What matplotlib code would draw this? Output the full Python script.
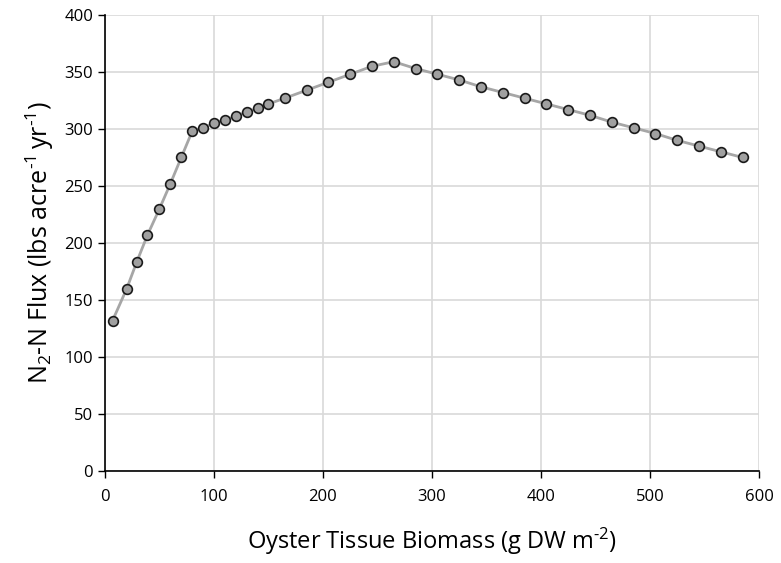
import matplotlib
matplotlib.use("Agg")
import matplotlib.pyplot as plt

biomass = [7, 20, 29, 39, 50, 60, 70, 80, 90, 100, 110, 120, 130, 140, 150,
           165, 185, 205, 225, 245, 265, 285, 305, 325, 345, 365, 385, 405,
           425, 445, 465, 485, 505, 525, 545, 565, 585]
flux = [132, 160, 183, 207, 230, 252, 275, 298, 301, 305, 308, 311, 315, 318, 322,
        327, 334, 341, 348, 355, 359, 353, 348, 343, 337, 332, 327, 322,
        317, 312, 306, 301, 296, 290, 285, 280, 275]
xticks = [0, 100, 200, 300, 400, 500, 600]
yticks = [0, 50, 100, 150, 200, 250, 300, 350, 400]

plt.rcParams['font.family'] = ['Open Sans', 'DejaVu Sans']
plt.rcParams['mathtext.fontset'] = 'custom'
plt.rcParams['mathtext.rm'] = 'Open Sans'
plt.rcParams['mathtext.it'] = 'Open Sans'
plt.rcParams['mathtext.bf'] = 'Open Sans'
fig = plt.figure(figsize=(7.81, 5.63), dpi=100)
ax = fig.add_axes([0.1344, 0.1634, 0.8374, 0.81])
ax.plot(biomass, flux, color='#a6a6a6', lw=2, marker='o', markersize=7,
        markerfacecolor='#a0a0a0', markeredgecolor='#1a1a1a', markeredgewidth=1.2, zorder=3)
ax.set_xlim(0, 600)
ax.set_ylim(0, 400)
ax.set_xticks(xticks)
ax.set_yticks(yticks)
ax.grid(True, color='#d9d9d9', lw=1.2)
ax.set_axisbelow(True)
for s in ['top', 'right']:
    ax.spines[s].set_visible(False)
for s in ['left', 'bottom']:
    ax.spines[s].set_color('black')
    ax.spines[s].set_linewidth(1.2)
ax.tick_params(direction='out', length=5, width=1, labelsize=12, colors='black')
ax.tick_params(axis='x', pad=8)
ax.set_xlabel('Oyster Tissue Biomass (g DW m$^{\\text{-2}}$)', fontsize=17, labelpad=15)
ax.set_ylabel('N$_{\\text{2}}$-N Flux (lbs acre$^{\\text{-1}}\\,$yr$^{\\text{-1}}$)', fontsize=18, labelpad=6)
fig.savefig('out.png', dpi=100)
